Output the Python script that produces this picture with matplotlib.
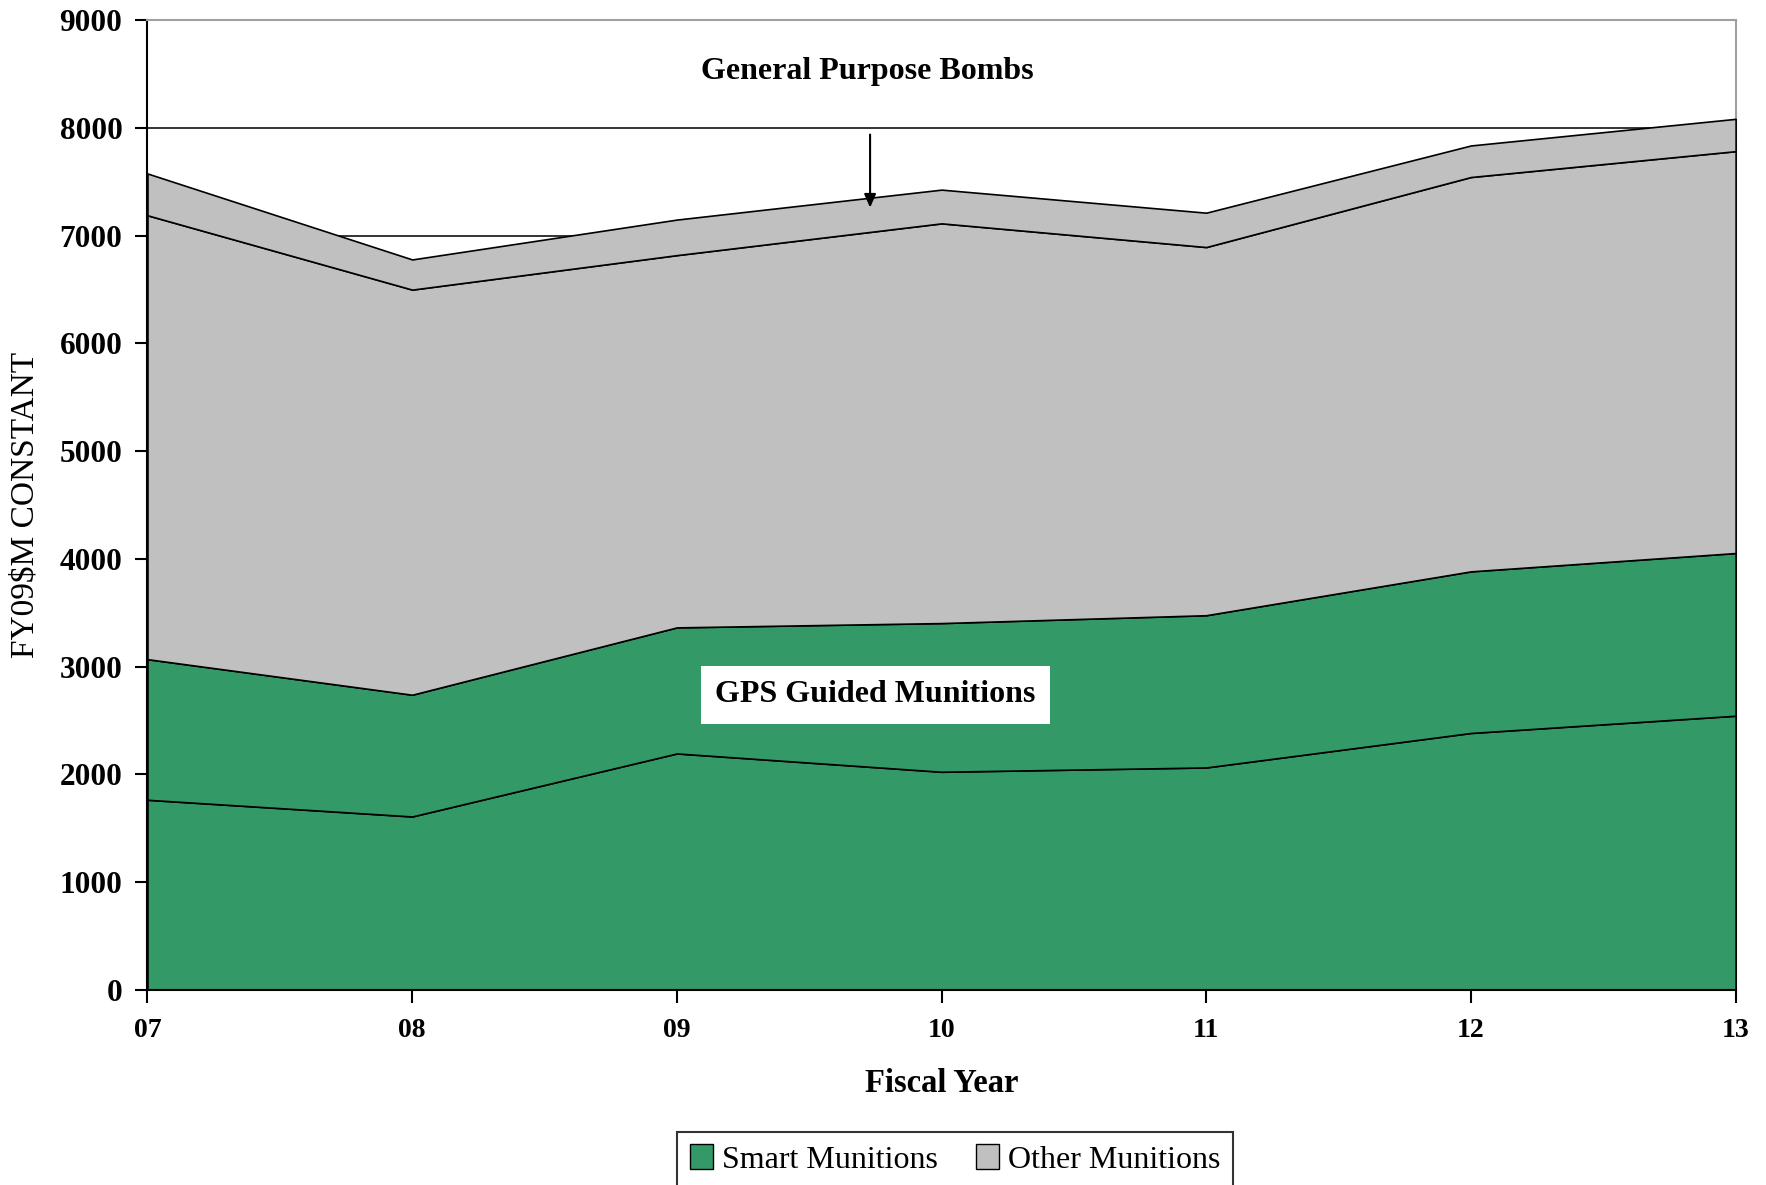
import numpy as np
import matplotlib
matplotlib.use("Agg")
import matplotlib.pyplot as plt
from matplotlib.patches import Patch

plt.rcParams["font.family"] = ["Liberation Serif", "DejaVu Serif"]

# funding by fiscal year, FY09 $M constant (stack order bottom -> top)
years = ["07", "08", "09", "10", "11", "12", "13"]
smart_other = [1765, 1610, 2195, 2025, 2065, 2385, 2545]
gps_guided = [1305, 1130, 1170, 1380, 1413, 1500, 1510]
other_munitions = [4120, 3760, 3455, 3710, 3417, 3660, 3730]
gp_bombs = [388, 280, 330, 313, 319, 293, 300]

GREEN = "#339966"
GREY = "#c0c0c0"

fig = plt.figure(figsize=(17.66, 11.85), dpi=100)
ax = fig.add_axes([0.0835, 0.1646, 0.8993, 0.8183])

x = np.arange(len(years))
ax.stackplot(x, smart_other, gps_guided, other_munitions, gp_bombs,
             colors=[GREEN, GREEN, GREY, GREY],
             edgecolor="black", linewidth=1.2, zorder=2)

ax.set_xlim(0, len(years) - 1)
ax.set_ylim(0, 9000)
ax.set_yticks(np.arange(0, 9001, 1000))
ax.set_xticks(x, labels=years)

# horizontal gridlines sit behind the areas
for y in range(1000, 9000, 1000):
    ax.axhline(y, color="#333333", linewidth=1.4, zorder=1)

for side in ("left", "bottom"):
    ax.spines[side].set_color("black")
    ax.spines[side].set_linewidth(1.5)
for side in ("top", "right"):
    ax.spines[side].set_color("#a0a0a0")
    ax.spines[side].set_linewidth(1.5)
ax.spines["right"].set_zorder(1)

ax.tick_params(axis="both", direction="out", length=9, width=1.5,
               colors="black", pad=6)
ax.tick_params(axis="y", pad=9)
ax.tick_params(axis="x", pad=11)
for lbl in ax.get_yticklabels():
    lbl.set_fontsize(22.5)
    lbl.set_fontweight("bold")
for lbl in ax.get_xticklabels():
    lbl.set_fontsize(20)
    lbl.set_fontweight("bold")

ax.set_xlabel("Fiscal Year", fontsize=23.5, fontweight="bold", labelpad=18)
ax.set_ylabel("FY09$M CONSTANT", fontsize=24, labelpad=14)

ax.text(2.72, 8520, "General Purpose Bombs", ha="center", va="center",
        fontsize=23, fontweight="bold", zorder=5)
ax.annotate("", xy=(2.73, 7235), xytext=(2.73, 7965),
            arrowprops=dict(arrowstyle="-|>,head_length=0.8,head_width=0.35",
                            color="black", lw=1.5),
            zorder=5)
ax.text(2.75, 2740, "GPS Guided Munitions", ha="center", va="center",
        fontsize=23, fontweight="bold", zorder=5,
        bbox=dict(boxstyle="square,pad=0.45", facecolor="white",
                  edgecolor="none"))

handles = [Patch(facecolor=GREEN, edgecolor="black", linewidth=1),
           Patch(facecolor=GREY, edgecolor="black", linewidth=1)]
leg = fig.legend(handles, ["Smart Munitions", "Other Munitions"],
                 loc="upper center", bbox_to_anchor=(0.541, 0.045),
                 borderaxespad=0, ncol=2, fontsize=23, frameon=True,
                 fancybox=False, handlelength=0.7, handleheight=0.8,
                 handletextpad=0.3, columnspacing=1.2, borderpad=0.4)
leg.get_frame().set_edgecolor("black")
leg.get_frame().set_linewidth(1.5)

fig.savefig("out.png", dpi=100)
